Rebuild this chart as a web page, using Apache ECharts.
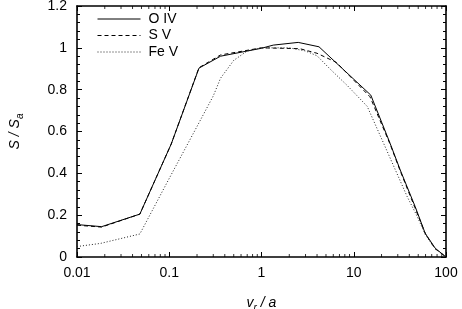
<!DOCTYPE html>
<html>
<head>
<meta charset="utf-8">
<script src="https://cdn.jsdelivr.net/npm/echarts@6/dist/echarts.min.js"></script>
<style>html,body{margin:0;padding:0;background:#fff}#c{width:462px;height:309px}</style>
</head>
<body>
<div id="c"></div>
<script>
// Data
const seriesNames = ['O IV', 'S V', 'Fe V'];
const oIV = [[0.01,0.155],[0.0185,0.145],[0.048,0.205],[0.105,0.54],[0.21,0.903],[0.36,0.96],[1,0.998],[1.34,1.013],[2.5,1.026],[4.2,1.005],[15.3,0.774],[24.8,0.543],[31.9,0.416],[46.4,0.24],[59.5,0.113],[76.4,0.042],[100,0.0]];
const sV = [[0.01,0.152],[0.0185,0.143],[0.048,0.205],[0.105,0.54],[0.21,0.905],[0.36,0.966],[1,1.0],[2.6,0.996],[4,0.974],[6.5,0.93],[15,0.766],[25,0.535],[32,0.41],[46,0.236],[60,0.11],[76,0.04],[100,0.0]];
const feV = [[0.01,0.05],[0.018,0.065],[0.048,0.11],[0.1,0.376],[0.2,0.624],[0.3,0.77],[0.36,0.855],[0.5,0.94],[0.7,0.985],[1,1.0],[2,1.0],[3,0.985],[4,0.962],[5.5,0.9],[8.5,0.82],[14,0.72],[21,0.545],[38,0.288],[48,0.2],[60,0.105],[76,0.04],[100,0.0]];
const xTickLabels = ['0.01','0.1','1','10','100'];
const minorMultipliers = [2,3,4,5,6,7,8,9];
const decades = [0.01,0.1,1,10];

const minorX = [];
decades.forEach(d => minorMultipliers.forEach(m => minorX.push(+(d*m).toPrecision(3))));
const yMin = 0, yMax = 1.2;

const FONT = 'Liberation Sans';
const chart = echarts.init(document.getElementById('c'), null, {renderer:'canvas'});

const lineBase = {type:'line', symbol:'none', smooth:false, xAxisIndex:0, yAxisIndex:0, z:3};
const nameRich = {
  i:{fontFamily:FONT, fontStyle:'italic', fontSize:14, color:'#000', lineHeight:20, verticalAlign:'middle'},
  sub:{fontFamily:FONT, fontStyle:'italic', fontSize:10, color:'#000', lineHeight:10, verticalAlign:'bottom'}
};
const axisLineStyle = {show:true, onZero:false, lineStyle:{color:'#000', width:1.6}};
const tickStyle = {show:true, inside:true, length:5, lineStyle:{color:'#000', width:1}};

chart.setOption({
  animation:false,
  backgroundColor:'#fff',
  textStyle:{fontFamily:FONT},
  grid:{left:77, right:16, top:6, bottom:52, containLabel:false, outerBoundsMode:'none'},
  legend:{
    data:seriesNames, orient:'vertical', left:92, top:7,
    itemWidth:43, itemHeight:14, itemGap:2.5,
    itemStyle:{opacity:0, color:'transparent', borderWidth:0},
    lineStyle:{width:1},
    textStyle:{fontFamily:FONT, fontSize:14, color:'#000', padding:[0,0,0,3]},
    inactiveColor:'#000'
  },
  xAxis:[
    {type:'log', min:0.01, max:100, logBase:10, position:'bottom',
     axisLine:axisLineStyle, axisTick:tickStyle,
     axisLabel:{show:true, color:'#000', fontSize:14, fontFamily:FONT, margin:9,
       formatter:v => { const i = Math.round(Math.log10(v)) + 2; return xTickLabels[i] !== undefined ? xTickLabels[i] : ''; }},
     splitLine:{show:false},
     name:'{i|v}{sub|r}{i| / a}', nameLocation:'middle', nameGap:36,
     nameTextStyle:{rich:nameRich}
    },
    {type:'log', min:0.01, max:100, logBase:10, position:'top',
     axisLine:axisLineStyle, axisTick:tickStyle,
     axisLabel:{show:false}, splitLine:{show:false}}
  ],
  yAxis:[
    {type:'value', min:yMin, max:yMax, interval:0.2, position:'left',
     axisLine:axisLineStyle, axisTick:tickStyle,
     minorTick:{show:true, splitNumber:5, length:3, lineStyle:{color:'#000'}},
     axisLabel:{color:'#000', fontSize:14, fontFamily:FONT, margin:10,
       formatter:v => String(+v.toFixed(1))},
     splitLine:{show:false},
     name:'{i|S / S}{sub|a}', nameLocation:'middle', nameGap:52,
     nameTextStyle:{rich:nameRich}
    },
    {type:'value', min:yMin, max:yMax, interval:0.2, position:'right',
     axisLine:axisLineStyle, axisTick:tickStyle,
     minorTick:{show:true, splitNumber:5, length:3, lineStyle:{color:'#000'}},
     axisLabel:{show:false}, splitLine:{show:false}}
  ],
  series:[
    Object.assign({}, lineBase, {name:seriesNames[0], data:oIV, lineStyle:{color:'#000', width:1, type:'solid'}, itemStyle:{color:'#000'}}),
    Object.assign({}, lineBase, {name:seriesNames[1], data:sV, lineStyle:{color:'#000', width:1, type:[4,3]}, itemStyle:{color:'#000'}}),
    Object.assign({}, lineBase, {name:seriesNames[2], data:feV, lineStyle:{color:'#222', width:1, type:[1,2]}, itemStyle:{color:'#222'}}),
    {type:'scatter', name:'minorBottom', silent:true, clip:false, xAxisIndex:0, yAxisIndex:0,
     symbol:'rect', symbolSize:[1,3], symbolOffset:[0,-1.5], itemStyle:{color:'#000'},
     data:minorX.map(v => [v, yMin]), z:4},
    {type:'scatter', name:'minorTop', silent:true, clip:false, xAxisIndex:0, yAxisIndex:0,
     symbol:'rect', symbolSize:[1,3], symbolOffset:[0,1.5], itemStyle:{color:'#000'},
     data:minorX.map(v => [v, yMax]), z:4}
  ]
});
</script>
</body>
</html>
